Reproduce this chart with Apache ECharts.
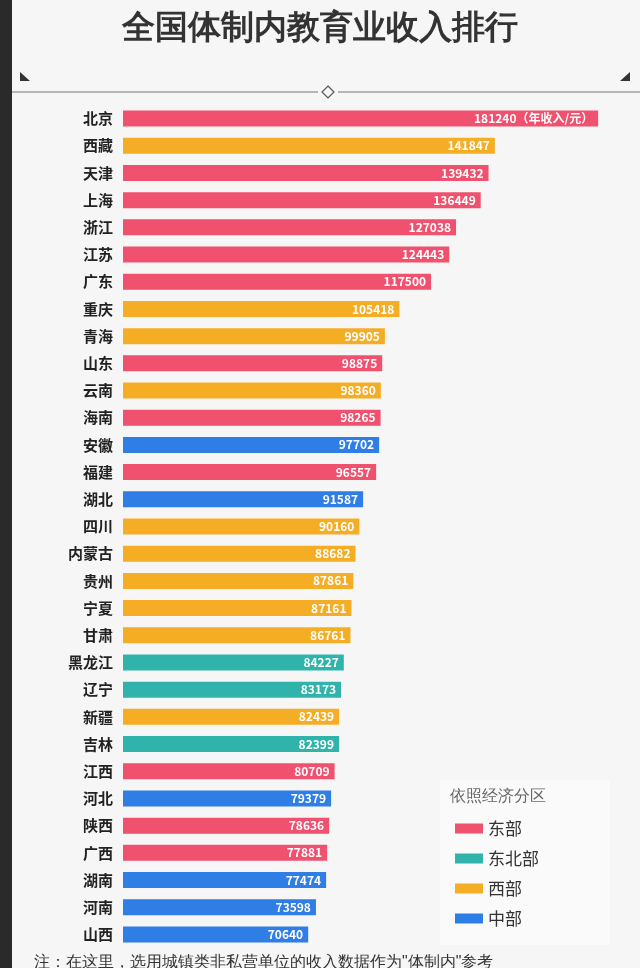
<!DOCTYPE html>
<html><head><meta charset="utf-8">
<script src="https://cdn.jsdelivr.net/npm/echarts@6/dist/echarts.min.js"></script>
<style>html,body{margin:0;padding:0;background:#f6f6f6}#c{width:640px;height:968px}</style>
</head><body><div id="c"></div>
<script>
// 数据
var provinces = ['北京','西藏','天津','上海','浙江','江苏','广东','重庆','青海','山东','云南','海南','安徽','福建','湖北','四川','内蒙古','贵州','宁夏','甘肃','黑龙江','辽宁','新疆','吉林','江西','河北','陕西','广西','湖南','河南','山西'];
var incomes = [181240,141847,139432,136449,127038,124443,117500,105418,99905,98875,98360,98265,97702,96557,91587,90160,88682,87861,87161,86761,84227,83173,82439,82399,80709,79379,78636,77881,77474,73598,70640];
var regions = ['东部','西部','东部','东部','东部','东部','东部','西部','西部','东部','西部','东部','中部','东部','中部','西部','西部','西部','西部','西部','东北部','东北部','西部','东北部','东部','中部','东部','东部','中部','中部','中部'];
var regionNames = ['东部','东北部','西部','中部'];
var regionColors = ['#ef516e','#30b3ab','#f6ad26','#2f7ee6'];

var chart = echarts.init(document.getElementById('c'));
var series = regionNames.map(function(r, k) {
	return {
		name: r,
		type: 'bar',
		stack: 'a',
		barWidth: 16,
		itemStyle: { color: regionColors[k] },
		label: {
			show: true,
			position: 'insideRight',
			color: '#fff',
			fontSize: 12,
			fontWeight: 'bold',
			fontFamily: 'Noto Sans CJK SC',
			formatter: function(p) {
				return p.dataIndex === 0 ? p.value + '（年收入/元）' : p.value;
			}
		},
		data: incomes.map(function(v, i) { return regions[i] === r ? v : '-'; })
	};
});

chart.setOption({
	backgroundColor: '#f6f6f6',
	textStyle: { fontFamily: 'Noto Sans CJK SC' },
	grid: { left: 123, right: 32, top: 105, bottom: 20 },
	xAxis: { type: 'value', min: 0, max: 185000, show: false },
	yAxis: {
		type: 'category', inverse: true, data: provinces,
		axisLine: { show: false }, axisTick: { show: false },
		axisLabel: { color: '#222', fontSize: 15, fontWeight: 'bold', margin: 10 }
	},
	legend: {
		orient: 'vertical', left: 450, top: 815, itemWidth: 28, itemHeight: 10, itemGap: 13,
		icon: 'rect', textStyle: { fontSize: 17, color: '#333' }, selectedMode: false
	},
	graphic: [
		{ type: 'rect', shape: { x: 0, y: 0, width: 12, height: 968 }, style: { fill: '#2a2a2a' } },
		{ type: 'rect', z: -1, shape: { x: 440, y: 780, width: 170, height: 165 }, style: { fill: '#fafafa' } },
		{ type: 'text', left: 'center', top: 12, style: { text: '全国体制内教育业收入排行', fontSize: 33, fontWeight: 'bold', fill: '#333' } },
		{ type: 'line', shape: { x1: 12, y1: 92, x2: 318, y2: 92 }, style: { stroke: '#777', lineWidth: 1 } },
		{ type: 'line', shape: { x1: 338, y1: 92, x2: 640, y2: 92 }, style: { stroke: '#777', lineWidth: 1 } },
		{ type: 'polygon', shape: { points: [[328,86],[334,92],[328,98],[322,92]] }, style: { fill: 'none', stroke: '#555', lineWidth: 1.2 } },
		{ type: 'polygon', shape: { points: [[20,72],[30,81],[20,81]] }, style: { fill: '#333' } },
		{ type: 'polygon', shape: { points: [[630,72],[630,81],[620,81]] }, style: { fill: '#333' } },
		{ type: 'text', left: 450, top: 789, style: { text: '依照经济分区', fontSize: 16, fill: '#666' } },
		{ type: 'text', left: 34, top: 955, style: { text: '注：在这里，选用城镇类非私营单位的收入数据作为"体制内"参考', fontSize: 16, fill: '#333' } }
	],
	series: series
});
</script></body></html>
